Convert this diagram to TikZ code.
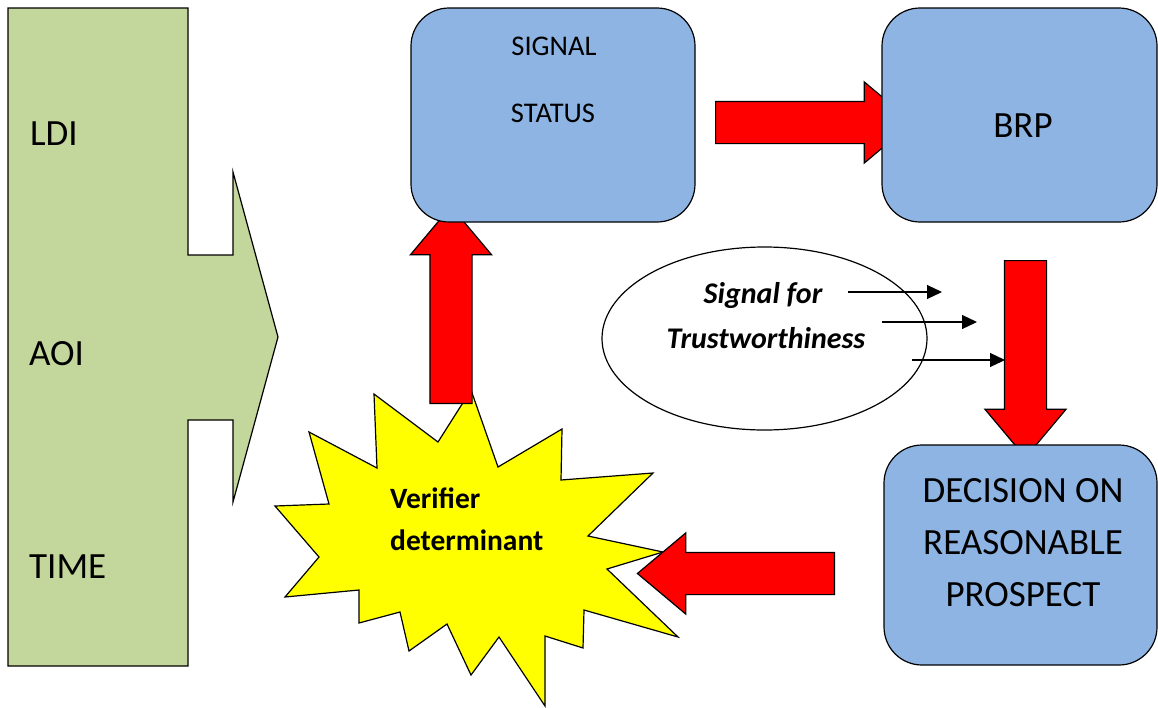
\documentclass[tikz,border=0pt]{standalone}
\usepackage{fontspec}
\setmainfont{Carlito}
\usetikzlibrary{arrows.meta, positioning, shapes.geometric, shapes.arrows}

\definecolor{PanelGreen}{RGB}{195, 214, 155}
\definecolor{BoxBlue}{RGB}{142, 180, 227}
\definecolor{FlowRed}{RGB}{255, 0, 0}
\definecolor{BurstYellow}{RGB}{255, 255, 0}

\tikzset{
    stagebox/.style={draw, line width=1.2pt, fill=BoxBlue, rounded corners=38pt},
    flowarrow/.style={single arrow, draw, line width=1.2pt, fill=FlowRed, inner xsep=0pt, inner ysep=20.5pt,
        single arrow head extend=19.5pt, single arrow tip angle=80, minimum height=197pt, anchor=tail},
    bigtext/.style={font=\fontsize{37}{52}\selectfont, inner sep=0pt},
    midtext/.style={font=\fontsize{28.5}{42}\selectfont, inner sep=0pt},
    boldtext/.style={font=\fontsize{29.5}{42}\selectfont\bfseries, inner sep=0pt},
    thinarrow/.style={-{Triangle[length=15pt, width=14pt]}, line width=1.2pt},
}

\begin{document}
\begin{tikzpicture}[x=1pt, y=-1pt]
        \useasboundingbox (0, 0) rectangle (1158, 707);

        % Input panel with arrow
        \draw[line width=1.2pt, fill=PanelGreen] (8, 8) -- (188, 8) -- (188, 255) -- (233, 255) -- (233, 172)
            -- (278, 337) -- (233, 502) -- (233, 420) -- (188, 420) -- (188, 666) -- (8, 666) -- cycle;
        \node[bigtext, anchor=base west] (ldi) at (30, 145) {LDI};
        \node[bigtext, anchor=base west] (aoi) at (29, 365) {AOI};
        \node[bigtext, anchor=base west] (time) at (29, 578) {TIME};

        % Verifier burst
        \draw[line width=1.2pt, fill=BurstYellow] (374, 394) -- (438, 442) -- (471, 390) -- (498, 467)
            -- (562, 429) -- (561, 480) -- (653, 473) -- (588, 536) -- (663, 552) -- (607, 569)
            -- (678, 637) -- (584, 610) -- (583, 648) -- (545, 636) -- (545, 706) -- (499, 637)
            -- (471, 675) -- (447, 624) -- (409, 651) -- (400, 612) -- (359, 623) -- (359, 590)
            -- (285, 597) -- (319, 557) -- (275, 506) -- (329, 504) -- (309, 432) -- (377, 468) -- cycle;
        \node[boldtext, anchor=base west] (verA) at (390, 508) {Verifier};
        \node[boldtext, anchor=base west] (verB) at (390, 550) {determinant};

        % Block arrows (heads run under the boxes)
        \node[flowarrow, rotate=90] (upflow) at (451, 404) {};
        \node[flowarrow] (rightflow) at (715, 122.5) {};
        \node[flowarrow, rotate=270] (downflow) at (1025.5, 260) {};
        \node[flowarrow, rotate=180] (leftflow) at (835, 573.5) {};

        % Stage boxes
        \node[stagebox, minimum width=284pt, minimum height=214pt] (sig) at (553, 115) {};
        \node[stagebox, minimum width=275pt, minimum height=214pt] (brp) at (1019.5, 115) {};
        \node[stagebox, minimum width=273pt, minimum height=220pt] (dec) at (1020.5, 555) {};
        \node[midtext, anchor=base] (sigA) at (554, 55) {SIGNAL};
        \node[midtext, anchor=base] (sigB) at (553, 122) {STATUS};
        \node[bigtext, anchor=base] (brptxt) at (1023, 137) {BRP};
        \node[bigtext, align=center] (dectxt) at (1023, 542.5) {DECISION ON\\REASONABLE\\PROSPECT};

        % Trust signal
        \node[ellipse, draw, line width=1.2pt, minimum width=325pt, minimum height=183pt] (trust) at (764.5, 338.5) {};
        \node[boldtext, font=\fontsize{30}{42}\selectfont\bfseries\itshape, anchor=base] (trA) at (763, 303) {Signal for};
        \node[boldtext, font=\fontsize{30}{42}\selectfont\bfseries\itshape, anchor=base] (trB) at (766, 348) {Trustworthiness};
        \foreach \i/\y/\xa/\xb in {1/292/848/942, 2/322/882/977, 3/360/912/1005} {
            \coordinate (sa\i) at (\xa, \y);
            \coordinate (sb\i) at (\xb, \y);
            \draw[thinarrow] (sa\i) -- (sb\i);
        }
\end{tikzpicture}
\end{document}
